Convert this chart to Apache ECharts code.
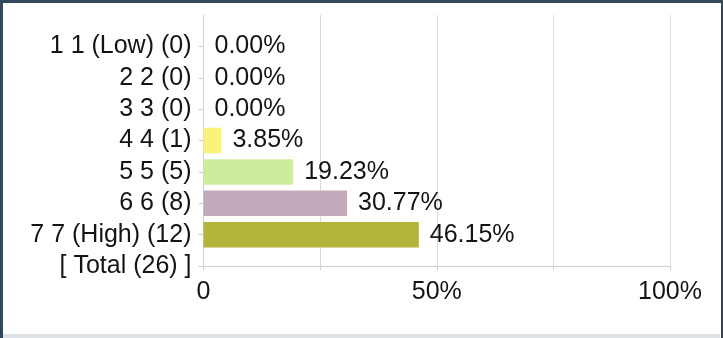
<!DOCTYPE html>
<html>
<head>
<meta charset="utf-8">
<script src="https://cdn.jsdelivr.net/npm/echarts@6/dist/echarts.min.js"></script>
<style>
  html, body { margin: 0; padding: 0; background: #ffffff; }
  #chart { width: 723px; height: 338px; }
</style>
</head>
<body>
<div id="chart"></div>
<script>
// Rating scale categories (top slot left blank so rows sit on the tick marks)
const categories = ['', '1 1 (Low) (0)', '2 2 (0)', '3 3 (0)', '4 4 (1)', '5 5 (5)', '6 6 (8)', '7 7 (High) (12)', '[ Total (26) ]'];
// Share of responses per rating, in percent (null = no bar)
const percentages = [null, 0.00, 0.00, 0.00, 3.85, 19.23, 30.77, 46.15, null];
// Fill colour for each row
const barColors = [null, '#f9f27a', '#f9f27a', '#f9f27a', '#faf27a', '#cdeca0', '#c3aabb', '#b4b43a', null];
// Value axis labels
const xTickLabels = { 0: '0', 50: '50%', 100: '100%' };

const FONT = '"Liberation Sans", Arial, sans-serif';
const TEXT = '#141414';

const chart = echarts.init(document.getElementById('chart'), null, { renderer: 'canvas' });

const seriesData = percentages.map((v, i) => v === null ? null : {
  value: v,
  itemStyle: { color: barColors[i] }
});

chart.setOption({
  backgroundColor: '#ffffff',
  animation: false,
  grid: { left: 203.5, right: 53, top: 15, bottom: 72, containLabel: false },
  xAxis: {
    type: 'value',
    min: 0, max: 100, interval: 25,
    axisLine: { show: true, lineStyle: { color: '#cfcfcf', width: 1 } },
    axisTick: { show: true, length: 4, lineStyle: { color: '#cfcfcf' } },
    splitLine: { show: true, lineStyle: { color: '#dadada', width: 1 } },
    axisLabel: {
      margin: 14,
      fontFamily: FONT, fontSize: 25, color: TEXT,
      formatter: v => (v in xTickLabels ? xTickLabels[v] : '')
    }
  },
  yAxis: {
    type: 'category',
    data: categories,
    inverse: true,
    boundaryGap: false,
    axisLine: { show: true, lineStyle: { color: '#cfcfcf', width: 1 } },
    axisTick: { show: true, length: 5, interval: (i) => i > 0, lineStyle: { color: '#cfcfcf' } },
    splitLine: { show: false },
    axisLabel: {
      margin: 12, interval: 0,
      fontFamily: FONT, fontSize: 25, color: TEXT
    }
  },
  series: [{
    type: 'bar',
    data: seriesData,
    barWidth: 25.5,
    label: {
      show: true,
      position: 'right',
      distance: 11,
      fontFamily: FONT, fontSize: 25, color: TEXT,
      formatter: p => p.value.toFixed(2) + '%'
    }
  }],
  graphic: [
    { type: 'rect', z: 100, shape: { x: 0, y: 0, width: 723, height: 3 }, style: { fill: '#34465a' } },
    { type: 'rect', z: 100, shape: { x: 0, y: 0, width: 3, height: 338 }, style: { fill: '#34465a' } },
    { type: 'rect', z: 100, shape: { x: 721, y: 0, width: 2, height: 338 }, style: { fill: '#34465a' } },
    { type: 'rect', z: 100, shape: { x: 3, y: 334, width: 717, height: 4 }, style: { fill: '#dde2e6' } }
  ]
});
</script>
</body>
</html>
